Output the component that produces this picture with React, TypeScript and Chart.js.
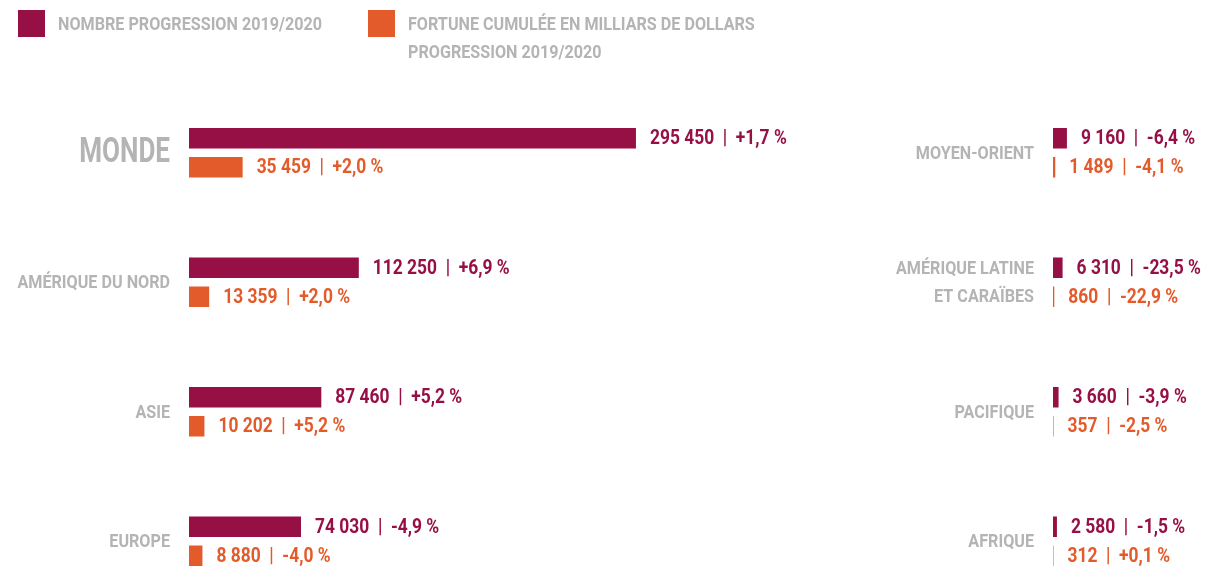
import React, { useEffect, useRef } from 'react';
import { Chart, registerables } from 'chart.js';

Chart.register(...registerables);

// ---- data ----
const leftCategories = ['MONDE', 'AMÉRIQUE DU NORD', 'ASIE', 'EUROPE'];
const leftNombre = [295450, 112250, 87460, 74030];
const leftNombrePct = ['+1,7', '+6,9', '+5,2', '-4,9'];
const leftFortune = [35459, 13359, 10202, 8880];
const leftFortunePct = ['+2,0', '+2,0', '+5,2', '-4,0'];

const rightCategories = [['MOYEN-ORIENT'], ['AMÉRIQUE LATINE', 'ET CARAÏBES'], ['PACIFIQUE'], ['AFRIQUE']];
const rightNombre = [9160, 6310, 3660, 2580];
const rightNombrePct = ['-6,4', '-23,5', '-3,9', '-1,5'];
const rightFortune = [1489, 860, 357, 312];
const rightFortunePct = ['-4,1', '-22,9', '-2,5', '+0,1'];

const legendNombre = ['NOMBRE PROGRESSION 2019/2020'];
const legendFortune = ['FORTUNE CUMULÉE EN MILLIARS DE DOLLARS', 'PROGRESSION 2019/2020'];

// ---- styles ----
const PURPLE = '#960f45';
const ORANGE = '#e35b2a';
const GREY = '#b4b4b4';
const FONT = "Roboto, 'Noto Sans', sans-serif";

const fmt = (v: number) => String(v).replace(/\B(?=(\d{3})+(?!\d))/g, ' ');

function drawCondensed(
  ctx: CanvasRenderingContext2D,
  text: string,
  x: number,
  y: number,
  align: CanvasTextAlign,
  size: number,
  sx: number,
  color: string
) {
  ctx.save();
  ctx.translate(x, y);
  ctx.scale(sx, 1);
  ctx.font = `bold ${size}px ${FONT}`;
  ctx.fillStyle = color;
  ctx.textAlign = align;
  ctx.textBaseline = 'middle';
  ctx.fillText(text, 0, 0);
  ctx.restore();
}

const valueLabels = {
  id: 'valueLabels',
  afterDatasetsDraw(chart: any) {
    const ctx = chart.ctx;
    chart.data.datasets.forEach((ds: any, di: number) => {
      const meta = chart.getDatasetMeta(di);
      meta.data.forEach((bar: any, i: number) => {
        const text = `${fmt(ds.data[i])}  |  ${ds.pct[i]} %`;
        drawCondensed(ctx, text, bar.x + 14, bar.y + 1, 'left', 20, 0.87, ds.labelColor);
      });
    });
  },
};

const categoryLabels = {
  id: 'categoryLabels',
  afterDraw(chart: any) {
    const ctx = chart.ctx;
    const y = chart.scales.y;
    const right = chart.chartArea.left - 19;
    const big = chart.options.plugins.categoryLabels.bigFirst;
    chart.data.labels.forEach((lab: any, i: number) => {
      const lines = Array.isArray(lab) ? lab : [lab];
      const isBig = big && i === 0;
      const cy = y.getPixelForValue(i) + (isBig ? 0 : 1);
      const size = isBig ? 35 : 19;
      const sx = isBig ? 0.745 : 0.85;
      const lh = 28;
      lines.forEach((ln: string, k: number) => {
        const ly = cy + (k - (lines.length - 1) / 2) * lh;
        drawCondensed(ctx, ln, right, ly, 'right', size, sx, GREY);
      });
    });
  },
};

function makeConfig(
  labels: any[],
  nombre: number[],
  nombrePct: string[],
  fortune: number[],
  fortunePct: string[],
  axisWidth: number,
  max: number,
  bigFirst: boolean
): any {
  return {
    type: 'bar',
    data: {
      labels,
      datasets: [
        {
          data: nombre,
          pct: nombrePct,
          labelColor: PURPLE,
          backgroundColor: PURPLE,
          categoryPercentage: 0.448,
          barPercentage: 0.707,
        },
        {
          data: fortune,
          pct: fortunePct,
          labelColor: ORANGE,
          backgroundColor: ORANGE,
          categoryPercentage: 0.448,
          barPercentage: 0.707,
        },
      ],
    },
    options: {
      indexAxis: 'y',
      animation: false,
      responsive: false,
      maintainAspectRatio: false,
      layout: { padding: { top: 88, bottom: 14, left: 0, right: 0 } },
      plugins: {
        legend: { display: false },
        tooltip: { enabled: false },
        categoryLabels: { bigFirst },
      },
      scales: {
        x: { display: false, min: 0, max },
        y: {
          afterFit: (scale: any) => {
            scale.width = axisWidth;
          },
          grid: { display: false, drawTicks: false },
          border: { display: false },
          ticks: { display: false },
        },
      },
    },
    plugins: [valueLabels, categoryLabels],
  };
}

export default function App() {
  const leftRef = useRef<HTMLCanvasElement>(null);
  const rightRef = useRef<HTMLCanvasElement>(null);

  useEffect(() => {
    const left = new Chart(
      leftRef.current as HTMLCanvasElement,
      makeConfig(leftCategories, leftNombre, leftNombrePct, leftFortune, leftFortunePct, 189, 470000, true)
    );
    const right = new Chart(
      rightRef.current as HTMLCanvasElement,
      makeConfig(rightCategories, rightNombre, rightNombrePct, rightFortune, rightFortunePct, 353, 100000, false)
    );
    return () => {
      left.destroy();
      right.destroy();
    };
  }, []);

  const legendText: React.CSSProperties = {
    position: 'absolute',
    fontFamily: FONT,
    fontWeight: 'bold',
    fontSize: 19,
    lineHeight: '28px',
    color: GREY,
    whiteSpace: 'nowrap',
    transform: 'scaleX(0.85)',
    transformOrigin: 'left top',
  };

  return (
    <div
      style={{
        position: 'fixed',
        left: 0,
        top: 0,
        width: 1205,
        height: 567,
        overflow: 'hidden',
        background: '#ffffff',
      }}
    >
      <canvas ref={leftRef} width={900} height={620} style={{ position: 'absolute', left: 0, top: 0 }} />
      <canvas ref={rightRef} width={505} height={620} style={{ position: 'absolute', left: 700, top: 0 }} />
      <div style={{ position: 'absolute', left: 18, top: 10, width: 27, height: 27, background: PURPLE }} />
      <div style={{ ...legendText, left: 58, top: 10 }}>
        {legendNombre.map((t) => (
          <div key={t}>{t}</div>
        ))}
      </div>
      <div style={{ position: 'absolute', left: 368, top: 10, width: 27, height: 27, background: ORANGE }} />
      <div style={{ ...legendText, left: 408, top: 10 }}>
        {legendFortune.map((t) => (
          <div key={t}>{t}</div>
        ))}
      </div>
    </div>
  );
}
